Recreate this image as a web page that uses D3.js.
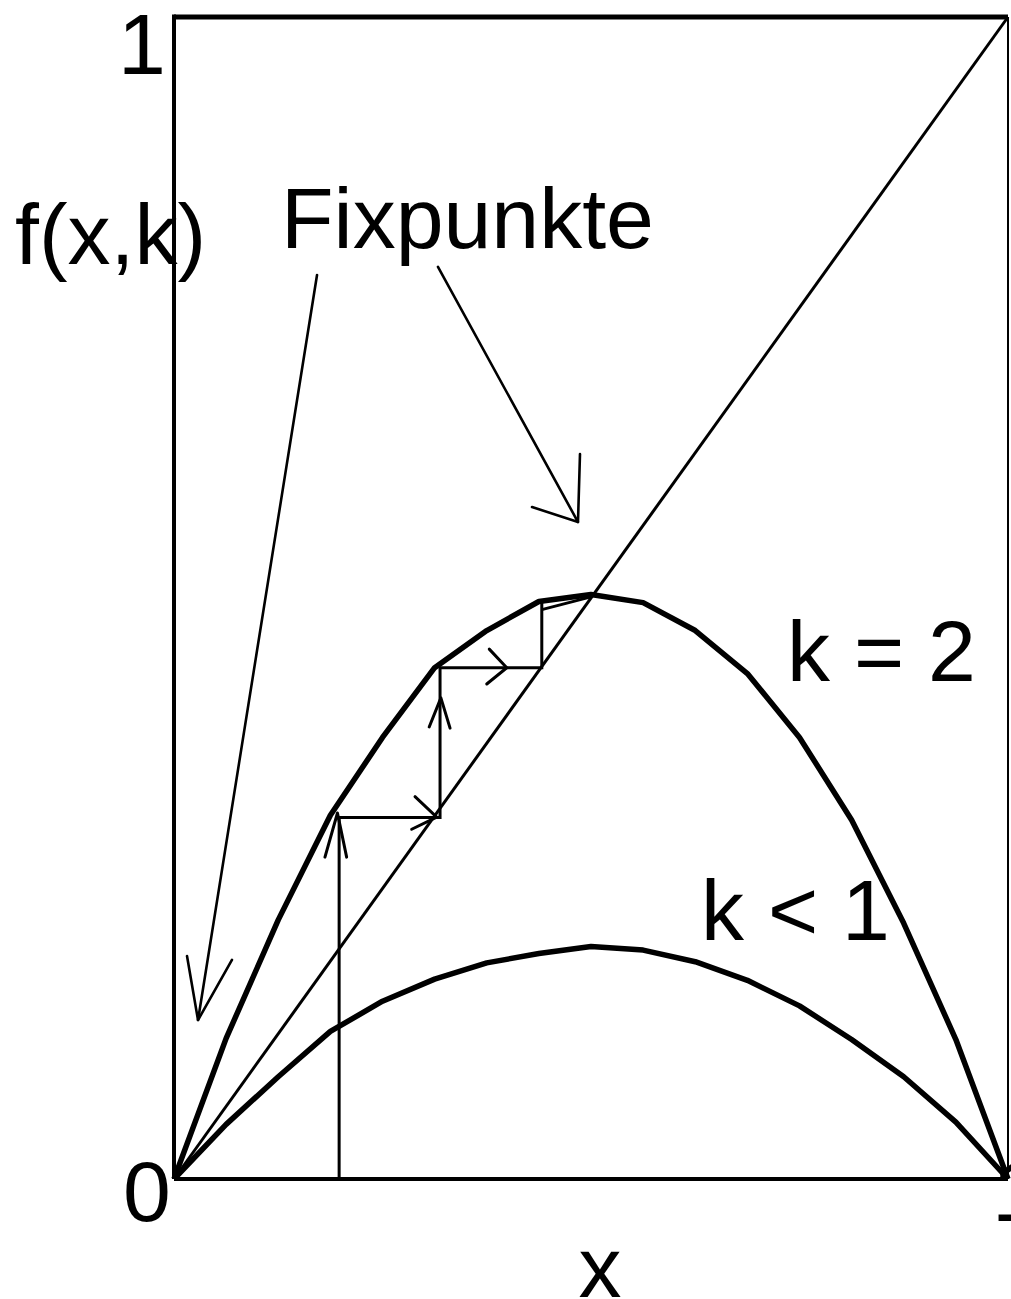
<!DOCTYPE html>
<html>
<head>
<meta charset="utf-8">
<script src="https://cdn.jsdelivr.net/npm/d3@7"></script>
<style>
  html, body { margin: 0; padding: 0; background: #fff; }
  svg { display: block; }
  text { font-family: "Liberation Sans", Arial, sans-serif; fill: #000; }
</style>
</head>
<body>
<div id="chart"></div>
<script>
// Sample points of the two maps f(x,k) on [0,1]
const xs = [0, 0.0625, 0.125, 0.1875, 0.25, 0.3125, 0.375, 0.4375, 0.5,
            0.5625, 0.625, 0.6875, 0.75, 0.8125, 0.875, 0.9375, 1];
const fK2 = [0, 0.121, 0.223, 0.313, 0.380, 0.440, 0.472, 0.497, 0.503,
             0.496, 0.472, 0.435, 0.380, 0.309, 0.220, 0.120, 0];
const fKlt1 = [0, 0.047, 0.088, 0.127, 0.153, 0.172, 0.186, 0.194, 0.200,
               0.197, 0.187, 0.171, 0.149, 0.120, 0.088, 0.049, 0];

// Bisector f = x
const diagonal = [[0, 0], [1, 1]];

// Cobweb iteration towards the fixed point
const cobweb = [[0.198, 0], [0.198, 0.311], [0.319, 0.311], [0.319, 0.440],
                [0.441, 0.440], [0.441, 0.497]];
const cobwebTail = [[0.441, 0.490], [0.500, 0.501]];

// Open arrowheads on the cobweb: [arm, tip, arm]
const cobwebHeads = [
  [[0.181, 0.277], [0.196, 0.315], [0.207, 0.277]],
  [[0.289, 0.329], [0.315, 0.3115], [0.285, 0.301]],
  [[0.306, 0.389], [0.320, 0.414], [0.331, 0.388]],
  [[0.378, 0.456], [0.399, 0.440], [0.375, 0.426]]
];

// "Fixpunkte" pointers: shaft [from, tip] and head [arm, tip, arm]
const pointers = [
  { shaft: [[0.1715, 0.778], [0.0288, 0.1368]],
    head: [[0.0156, 0.1919], [0.0288, 0.1368], [0.0695, 0.1885]] },
  { shaft: [[0.3165, 0.785], [0.4844, 0.5654]],
    head: [[0.4868, 0.6239], [0.4844, 0.5654], [0.4293, 0.5783]] }
];

const tickLabels = ["0", "1"];

const width = 1011, height = 1299;
const x = d3.scaleLinear().domain([0, 1]).range([174, 1008]);
const y = d3.scaleLinear().domain([0, 1]).range([1179, 17]);

const svg = d3.select("#chart").append("svg")
  .attr("width", width).attr("height", height);

const line = d3.line().x(d => x(d[0])).y(d => y(d[1]));

// Frame
const frame = svg.append("g").attr("stroke", "#000").attr("fill", "none");
frame.append("line").attr("x1", x(0)).attr("x2", x(1)).attr("y1", y(1)).attr("y2", y(1)).attr("stroke-width", 5);
frame.append("line").attr("x1", x(0)).attr("x2", x(0)).attr("y1", y(0)).attr("y2", y(1) - 2.5).attr("stroke-width", 4);
frame.append("line").attr("x1", x(0)).attr("x2", x(1)).attr("y1", y(0)).attr("y2", y(0)).attr("stroke-width", 4);
frame.append("line").attr("x1", x(1)).attr("x2", x(1)).attr("y1", y(0)).attr("y2", y(1)).attr("stroke-width", 2);

// Diagonal
svg.append("path").datum(diagonal).attr("d", line)
  .attr("fill", "none").attr("stroke", "#000").attr("stroke-width", 3);

// Curves
const curves = [fK2, fKlt1];
svg.append("g").selectAll("path").data(curves).join("path")
  .attr("d", vals => line(vals.map((v, i) => [xs[i], v])))
  .attr("fill", "none").attr("stroke", "#000").attr("stroke-width", 5.5)
  .attr("stroke-linejoin", "round");

// Cobweb
svg.append("path").datum(cobweb).attr("d", line)
  .attr("fill", "none").attr("stroke", "#000").attr("stroke-width", 3);
svg.append("path").datum(cobwebTail).attr("d", line)
  .attr("fill", "none").attr("stroke", "#000").attr("stroke-width", 3);
svg.append("g").selectAll("path").data(cobwebHeads).join("path")
  .attr("d", line)
  .attr("fill", "none").attr("stroke", "#000").attr("stroke-width", 3)
  .attr("stroke-linecap", "round").attr("stroke-linejoin", "round");

// Pointers from the label to the fixed points
const pg = svg.append("g").attr("fill", "none").attr("stroke", "#000")
  .attr("stroke-width", 2.6).attr("stroke-linecap", "round").attr("stroke-linejoin", "round");
pg.selectAll("path.shaft").data(pointers).join("path").attr("class", "shaft")
  .attr("d", d => line(d.shaft));
pg.selectAll("path.head").data(pointers).join("path").attr("class", "head")
  .attr("d", d => line(d.head));

// Labels
const fs = 86;
svg.append("text").attr("x", 118).attr("y", 74).attr("font-size", fs).text(tickLabels[1]);
svg.append("text").attr("x", 123).attr("y", 1221).attr("font-size", fs).text(tickLabels[0]);
svg.append("text").attr("x", 992).attr("y", 1221).attr("font-size", fs).text(tickLabels[1]);
svg.append("text").attr("x", 15).attr("y", 264).attr("font-size", fs).text("f(x,k)");
svg.append("text").attr("x", 281).attr("y", 248).attr("font-size", fs).text("Fixpunkte");
svg.append("text").attr("x", 787).attr("y", 681).attr("font-size", fs).text("k = 2");
svg.append("text").attr("x", 701).attr("y", 940).attr("font-size", fs).text("k < 1");
svg.append("text").attr("x", 600).attr("y", 1297).attr("font-size", fs)
  .attr("text-anchor", "middle").text("x");
</script>
</body>
</html>
